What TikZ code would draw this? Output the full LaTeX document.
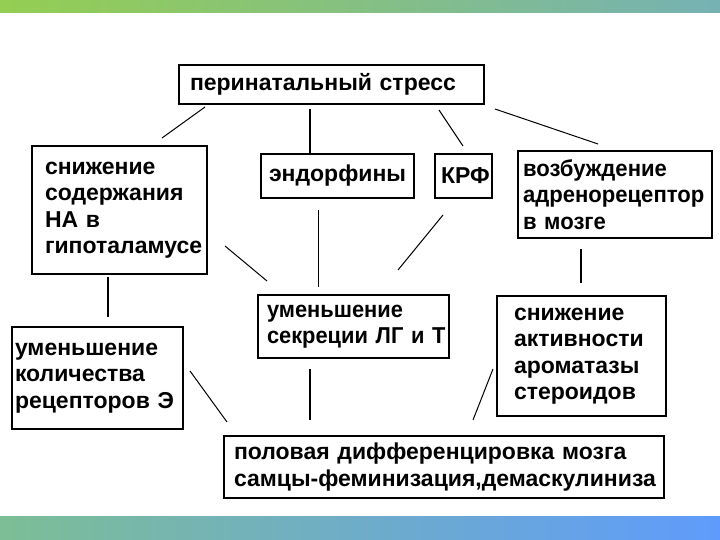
\documentclass[tikz,border=0pt]{standalone}
\usepackage{fontspec}
\setmainfont{Liberation Sans}
\usetikzlibrary{calc, positioning}

\definecolor{topLeft}{RGB}{148,206,82}
\definecolor{topRight}{RGB}{118,178,180}
\definecolor{botLeft}{RGB}{125,190,150}
\definecolor{botRight}{RGB}{95,155,252}

\begin{document}
\begin{tikzpicture}[
    x=1pt, y=-1pt,
    box/.style={draw, line width=2pt, anchor=north west, align=left, inner ysep=0pt,
        font=\fontsize{23}{26.5}\selectfont\bfseries,
        execute at begin node={\hyphenpenalty=10000 \exhyphenpenalty=10000 }},
    narrowtext/.style={font=\fontsize{23}{26.5}\selectfont\bfseries\addfontfeature{FakeStretch=#1}},
    thinline/.style={line width=1pt},
    thickline/.style={line width=2pt}
]

    % 1. Fundo e faixas em degradê
    \useasboundingbox (0,0) rectangle (720,540);
    \fill[white] (0,0) rectangle (720,540);
    \shade[left color=topLeft, right color=topRight] (0,0) rectangle (720,12.5);
    \shade[left color=botLeft, right color=botRight] (0,516) rectangle (720,540);

    % 2. Caixas
    \node[box, text width=283pt, inner xsep=11pt, minimum height=39pt] (stress) at (178,64) {перинатальный~стресс};
    \node[box, text width=149pt, inner xsep=13pt, minimum height=128pt] (na) at (31,145)
        {снижение\\содержания\\НА~в\\гипоталамусе};
    \node[box, text width=137pt, inner xsep=8pt, minimum height=44pt] (endo) at (260,153) {эндорфины};
    \node[box, text width=45pt, inner xsep=6pt, minimum height=44pt] (krf) at (434,153) {КРФ};
    \node[box, narrowtext=0.96, text width=184pt, inner xsep=5pt, minimum height=87pt] (adr) at (517,150)
        {возбуждение\\адренорецептор\\в~мозге};
    \node[box, text width=165pt, inner xsep=3pt, minimum height=102pt] (recep) at (11,326)
        {уменьшение\\количества\\рецепторов~Э};
    \node[box, narrowtext=0.95, text width=173pt, inner xsep=9pt, minimum height=63pt] (lh) at (257,294)
        {уменьшение\\секреции~ЛГ~и~Т};
    \node[box, text width=135pt, inner xsep=17pt, minimum height=120pt] (arom) at (496,295)
        {снижение\\активности\\ароматазы\\стероидов};
    \node[box, text width=420pt, inner xsep=10pt, minimum height=62pt] (sex) at (223,435)
        {половая~дифференцировка~мозга\\самцы-феминизация,демаскулиниза};

    % 3. Ligações (sem tocar as caixas)
    \draw[thinline] ([shift={(27,2)}]stress.south west) -- ([shift={(131,-7)}]na.north west);
    \draw[thickline] ([shift={(132,4)}]stress.south west) -- ([shift={(50,0)}]endo.north west);
    \draw[thinline] ([shift={(261,5)}]stress.south west) -- ([shift={(29,-7)}]krf.north west);
    \draw[thinline] ([shift={(10,4)}]stress.south east) -- ([shift={(81,-6)}]adr.north west);

    \draw[thickline] ([shift={(77,2)}]na.south west) -- ([shift={(97,-9)}]recep.north west);
    \draw[thinline] ([shift={(17,-29)}]na.south east) -- ([shift={(10,-13)}]lh.north west);
    \draw[thinline] ([shift={(58,11)}]endo.south west) -- ([shift={(61,-7)}]lh.north west);
    \draw[thinline] ([shift={(9,16)}]krf.south west) -- ([shift={(-52,-24)}]lh.north east);
    \draw[thickline] ([shift={(64,10)}]adr.south west) -- ([shift={(85,-12)}]arom.north west);

    \draw[thinline] ([shift={(6,45)}]recep.north east) -- ([shift={(4,-13)}]sex.north west);
    \draw[thickline] ([shift={(53,10)}]lh.south west) -- ([shift={(87,-15)}]sex.north west);
    \draw[thinline] ([shift={(-3,13)}]arom.west) -- ([shift={(250,-15)}]sex.north west);

\end{tikzpicture}
\end{document}
